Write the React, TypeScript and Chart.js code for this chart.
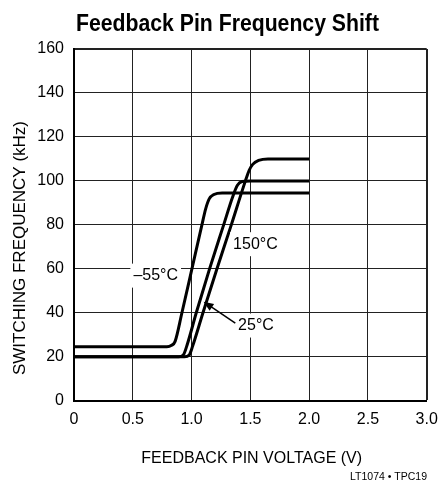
import React, { useEffect, useRef } from "react";
import { Chart, registerables } from "chart.js";

Chart.register(...registerables);

// ---- data ----
const chartTitle = "Feedback Pin Frequency Shift";
const xAxisTitle = "FEEDBACK PIN VOLTAGE (V)";
const yAxisTitle = "SWITCHING FREQUENCY (kHz)";
const footnote = "LT1074 • TPC19";

const xTickLabels = ["0", "0.5", "1.0", "1.5", "2.0", "2.5", "3.0"];
const yTickLabels = ["0", "20", "40", "60", "80", "100", "120", "140", "160"];

const curveLabels = ["–55°C", "25°C", "150°C"];

// –55°C
const voltsM55 = [0, 0.79, 0.83, 0.86, 0.918, 1.003, 1.088, 1.12, 1.15, 1.19, 1.26, 2.0];
const freqM55 = [24.5, 24.5, 25.2, 27, 40, 60, 80, 87.3, 91.8, 93.8, 94.5, 94.5];

// 25°C
const volts25 = [0, 0.89, 0.93, 0.96, 1.04, 1.153, 1.273, 1.35, 1.39, 1.43, 1.5, 2.0];
const freq25 = [20, 20, 20.8, 25, 40, 60, 80, 92.8, 98, 99.7, 100, 100];

// 150°C
const volts150 = [0, 0.94, 0.98, 1.01, 1.097, 1.216, 1.338, 1.458, 1.49, 1.52, 1.57, 1.65, 2.0];
const freq150 = [20, 20, 20.8, 25, 40, 60, 80, 100, 104.8, 107.5, 109.3, 110, 110];

const toPoints = (xs: number[], ys: number[]) => xs.map((x, i) => ({ x, y: ys[i] }));

const FONT = '"Liberation Sans", Arial, Helvetica, sans-serif';

const annotationPlugin = {
  id: "annotations",
  afterDatasetsDraw(chart: any) {
    const { ctx, scales } = chart;
    const xs = scales.x;
    const ys = scales.y;
    ctx.save();
    ctx.fillStyle = "#000";
    ctx.strokeStyle = "#000";

    // curve labels with white background boxes
    const labelAt = (text: string, vx: number, vy: number) => {
      const px = xs.getPixelForValue(vx);
      const py = ys.getPixelForValue(vy);
      ctx.font = `16px ${FONT}`;
      const w = ctx.measureText(text).width;
      ctx.fillStyle = "#fff";
      ctx.fillRect(px - w / 2 - 3, py - 12, w + 6, 24);
      ctx.fillStyle = "#000";
      ctx.textAlign = "center";
      ctx.textBaseline = "middle";
      ctx.fillText(text, px, py);
    };
    labelAt(curveLabels[0], 0.695, 56.9);
    labelAt(curveLabels[2], 1.543, 71.2);
    labelAt(curveLabels[1], 1.548, 34.2);

    // arrow to the 25°C curve
    const ax0 = xs.getPixelForValue(1.372);
    const ay0 = ys.getPixelForValue(35.3);
    const ax1 = xs.getPixelForValue(1.102);
    const ay1 = ys.getPixelForValue(45.0);
    const ang = Math.atan2(ay1 - ay0, ax1 - ax0);
    const headLen = 10;
    const headW = 4;
    ctx.lineWidth = 1.5;
    ctx.beginPath();
    ctx.moveTo(ax0, ay0);
    ctx.lineTo(ax1 - Math.cos(ang) * headLen * 0.8, ay1 - Math.sin(ang) * headLen * 0.8);
    ctx.stroke();
    ctx.beginPath();
    ctx.moveTo(ax1, ay1);
    ctx.lineTo(
      ax1 - Math.cos(ang) * headLen - Math.sin(ang) * headW,
      ay1 - Math.sin(ang) * headLen + Math.cos(ang) * headW
    );
    ctx.lineTo(
      ax1 - Math.cos(ang) * headLen + Math.sin(ang) * headW,
      ay1 - Math.sin(ang) * headLen - Math.cos(ang) * headW
    );
    ctx.closePath();
    ctx.fill();
    ctx.restore();
  },
  afterDraw(chart: any) {
    const { ctx } = chart;
    ctx.save();
    ctx.fillStyle = "#000";

    // title (bold condensed look)
    ctx.font = `bold 23px "Liberation Sans Narrow", "Liberation Sans", Arial, sans-serif`;
    const tw = ctx.measureText(chartTitle).width;
    const sx = 303 / tw;
    ctx.save();
    ctx.translate(227.5, 30.5);
    ctx.scale(sx, 1);
    ctx.textAlign = "center";
    ctx.textBaseline = "alphabetic";
    ctx.fillText(chartTitle, 0, 0);
    ctx.restore();

    // y axis title
    ctx.save();
    ctx.translate(20, 248);
    ctx.rotate(-Math.PI / 2);
    ctx.font = `17px ${FONT}`;
    ctx.textAlign = "center";
    ctx.textBaseline = "middle";
    ctx.fillText(yAxisTitle, 0, 0);
    ctx.restore();

    // x axis title
    ctx.font = `16px ${FONT}`;
    ctx.textAlign = "center";
    ctx.textBaseline = "middle";
    ctx.fillText(xAxisTitle, 251.7, 459);

    // footnote
    ctx.font = `10.5px ${FONT}`;
    ctx.textAlign = "right";
    ctx.textBaseline = "alphabetic";
    ctx.fillText(footnote, 427, 480);

    ctx.restore();
  },
};

export default function App() {
  const canvasRef = useRef<HTMLCanvasElement | null>(null);

  useEffect(() => {
    document.body.style.margin = "0";
    const canvas = canvasRef.current;
    if (!canvas) return;

    const lineStyle = {
      showLine: true,
      pointRadius: 0,
      borderColor: "#000",
      borderWidth: 3,
      cubicInterpolationMode: "monotone" as const,
      fill: false,
    };

    const chart = new Chart(canvas, {
      type: "scatter",
      data: {
        datasets: [
          { label: curveLabels[0], data: toPoints(voltsM55, freqM55), ...lineStyle },
          { label: curveLabels[1], data: toPoints(volts25, freq25), ...lineStyle },
          { label: curveLabels[2], data: toPoints(volts150, freq150), ...lineStyle },
        ],
      },
      options: {
        animation: false,
        responsive: false,
        devicePixelRatio: 1,
        layout: { autoPadding: false, padding: { top: 49, right: 13.3, bottom: 0, left: 0 } },
        plugins: {
          legend: { display: false },
          tooltip: { enabled: false },
          title: { display: false },
        },
        scales: {
          x: {
            type: "linear",
            min: 0,
            max: 3,
            afterFit: (scale: any) => {
              scale.height = 79.3;
              scale.paddingLeft = 0;
              scale.paddingRight = 0;
            },
            ticks: {
              stepSize: 0.5,
              padding: 9,
              color: "#000",
              font: { family: FONT, size: 16 },
              maxRotation: 0,
              callback: (_v: any, i: number) => xTickLabels[i],
            },
            grid: {
              color: "#222",
              lineWidth: (c: any) => (c.tick && c.tick.value === 3 ? 2 : 1),
              drawTicks: false,
            },
            border: { display: true, color: "#000", width: 2 },
          },
          y: {
            type: "linear",
            min: 0,
            max: 160,
            afterFit: (scale: any) => {
              scale.width = 74;
              scale.paddingTop = 0;
              scale.paddingBottom = 0;
            },
            ticks: {
              stepSize: 20,
              padding: 10,
              color: "#000",
              font: { family: FONT, size: 16 },
              callback: (_v: any, i: number) => yTickLabels[i],
            },
            grid: {
              color: "#222",
              lineWidth: (c: any) => (c.tick && c.tick.value === 160 ? 2 : 1),
              drawTicks: false,
            },
            border: { display: true, color: "#000", width: 2 },
          },
        },
      },
      plugins: [annotationPlugin],
    });

    return () => {
      chart.destroy();
    };
  }, []);

  return (
    <div style={{ width: 440, height: 480, background: "#fff" }}>
      <canvas ref={canvasRef} width={440} height={480} style={{ display: "block", width: 440, height: 480 }} />
    </div>
  );
}
